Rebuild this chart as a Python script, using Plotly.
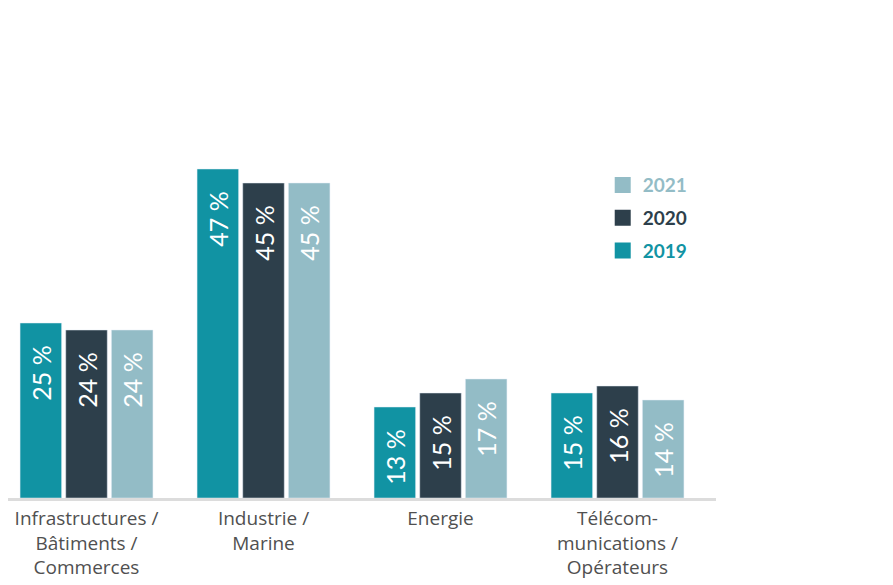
import plotly.graph_objects as go

categories = ["Infrastructures /<br>Bâtiments /<br>Commerces", "Industrie /<br>Marine", "Energie",
              "Télécom-<br>munications /<br>Opérateurs"]
years = ["2019", "2020", "2021"]
values_2019 = [25, 47, 13, 15]
values_2020 = [24, 45, 15, 16]
values_2021 = [24, 45, 17, 14]
colors = {"2019": "#1193a3", "2020": "#2d3f4b", "2021": "#93bcc6"}
series = {"2019": values_2019, "2020": values_2020, "2021": values_2021}

PAD = "\u00a0\u00a0\u00a0"

fig = go.Figure()
for y in years:
    vals = series[y]
    fig.add_trace(go.Bar(
        x=categories, y=vals, name=y, marker_color=colors[y], showlegend=False,
        text=[f"{v} %{PAD}" for v in vals], textposition="inside", textangle=-90,
        insidetextanchor="end", constraintext="none",
        textfont=dict(family="Lato", size=25, color="white"),
    ))
for y in reversed(years):
    fig.add_trace(go.Scatter(
        x=[None], y=[None], mode="markers", legendgroup=y,
        name=f"<b><span style='color:{colors[y]}'>{y}</span></b>",
        marker=dict(symbol="square", size=22, color=colors[y]), showlegend=True,
    ))

fig.update_layout(
    width=885, height=577,
    margin=dict(l=0, r=177, t=70, b=87),
    plot_bgcolor="white", paper_bgcolor="white",
    barmode="group", bargap=0.226, bargroupgap=0.09,
    legend=dict(x=0.84, y=0.79, xanchor="left", yanchor="top",
                font=dict(family="Lato", size=19), tracegroupgap=5,
                itemwidth=30, bgcolor="rgba(0,0,0,0)"),
    xaxis=dict(range=[-0.4435, 3.5565], showgrid=False, showline=True,
               linecolor="#dcdcdc", linewidth=3,
               tickfont=dict(family="Open Sans", size=19, color="#505050"), ticks="",
               ticklabelstandoff=1, automargin=False),
    yaxis=dict(range=[0, 60], visible=False, showgrid=False, automargin=False),
)
fig.write_html("out.html")
